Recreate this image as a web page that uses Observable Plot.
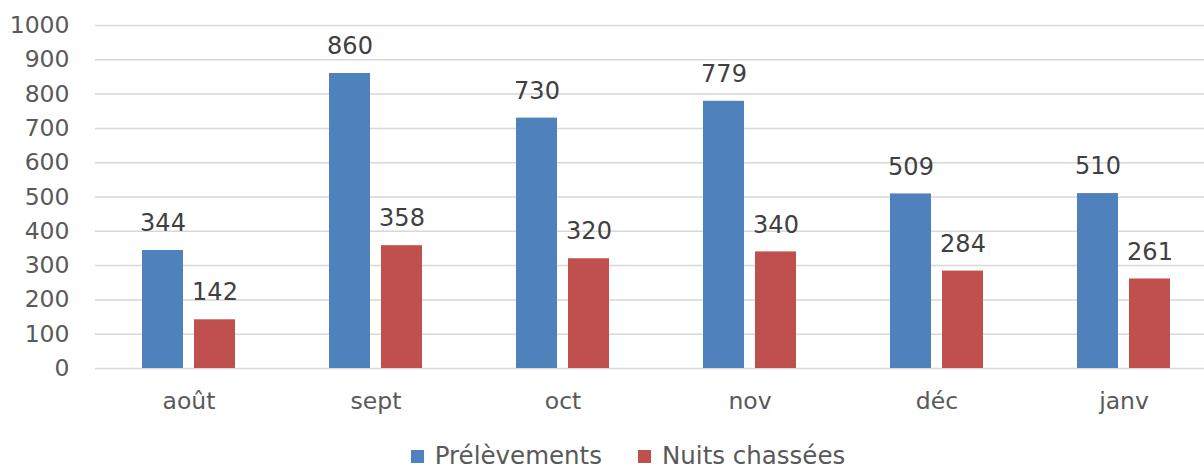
<!DOCTYPE html>
<html>
<head>
<meta charset="utf-8">
<script src="https://cdn.jsdelivr.net/npm/d3@7"></script>
<script src="https://cdn.jsdelivr.net/npm/@observablehq/plot@0.6"></script>
<style>
  html, body { margin: 0; padding: 0; background: #fff; }
  body { width: 1204px; height: 468px; overflow: hidden; font-family: "DejaVu Sans", sans-serif; }
  #legend { position: absolute; top: 444px; left: 26px; width: 1204px; display: flex; justify-content: center; gap: 36px; font-size: 24.5px; line-height: 24px; color: #595959; }
  #legend .item { display: flex; align-items: center; gap: 11px; }
  #legend .sw { width: 13px; height: 13px; display: inline-block; }
</style>
</head>
<body>
<div id="chart"></div>
<div id="legend"></div>
<script>
const months = ["août", "sept", "oct", "nov", "déc", "janv"];
const series = ["Prélèvements", "Nuits chassées"];
const prelevements = [344, 860, 730, 779, 509, 510];
const nuits = [142, 358, 320, 340, 284, 261];
const colors = ["#4f81bd", "#c0504d"];
const yTicks = [0, 100, 200, 300, 400, 500, 600, 700, 800, 900, 1000];

const data = [];
months.forEach((m, i) => {
  data.push({month: m, series: series[0], value: prelevements[i]});
  data.push({month: m, series: series[1], value: nuits[i]});
});

const chart = Plot.plot({
  width: 1204,
  height: 430,
  marginTop: 25,
  marginBottom: 62,
  marginLeft: 96,
  marginRight: 0,
  style: {fontFamily: "DejaVu Sans, sans-serif", fontSize: "23.5px", color: "#595959", background: "#fff"},
  fx: {domain: months, range: [93, 1218], padding: 0, label: null, tickSize: 0, tickPadding: 24, axis: "bottom"},
  x: {domain: series, paddingInner: 0.21, paddingOuter: 0.884, axis: null},
  y: {domain: [0, 1000], ticks: yTicks, tickFormat: d3.format("d"), grid: true, label: null, tickSize: 0, tickPadding: 26},
  color: {domain: series, range: colors},
  marks: [
    Plot.gridY(yTicks, {stroke: "#d9d9d9", strokeOpacity: 1, strokeWidth: 1.5}),
    Plot.barY(data, {fx: "month", x: "series", y: "value", fill: "series"}),
    Plot.text(data, {fx: "month", x: "series", y: "value", text: d => String(d.value), dy: -27, fill: "#404040", fontSize: 24})
  ]
});
document.getElementById("chart").appendChild(chart);

const legend = document.getElementById("legend");
series.forEach((s, i) => {
  const item = document.createElement("div");
  item.className = "item";
  const sw = document.createElement("span");
  sw.className = "sw";
  sw.style.background = colors[i];
  item.appendChild(sw);
  item.appendChild(document.createTextNode(s));
  legend.appendChild(item);
});
</script>
</body>
</html>
